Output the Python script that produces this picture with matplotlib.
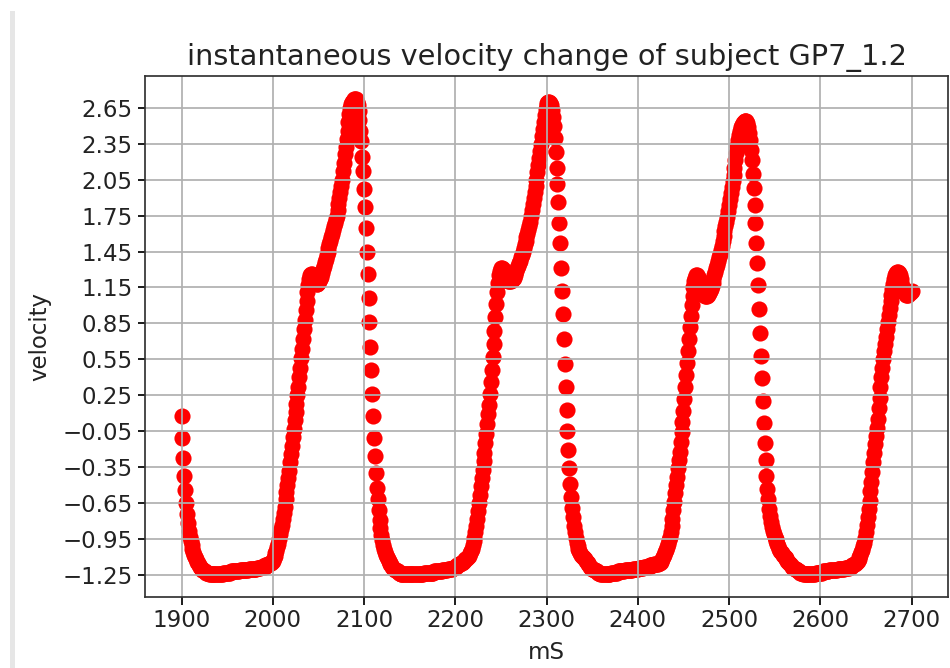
import numpy as np
import matplotlib
matplotlib.use("Agg")
import matplotlib.pyplot as plt
from matplotlib.patches import Rectangle

# time axis: one sample per ms starting at 1900
t_start = 1900
t_step = 1

v_1900 = [0.08, -0.11, -0.27, -0.42, -0.54, -0.65, -0.74, -0.82, -0.88, -0.93,
          -0.97, -1.00, -1.03, -1.06, -1.08, -1.10, -1.12, -1.14, -1.15, -1.17,
          -1.18, -1.19, -1.20, -1.21, -1.21, -1.22, -1.22, -1.23, -1.23, -1.23,
          -1.24, -1.24, -1.24, -1.24, -1.24, -1.24, -1.24, -1.24, -1.24, -1.24,
          -1.24, -1.24, -1.24, -1.24, -1.24, -1.24, -1.23, -1.23, -1.23, -1.23,
          -1.23, -1.23, -1.23, -1.23, -1.22, -1.22, -1.22, -1.22, -1.22, -1.22,
          -1.22, -1.22, -1.22, -1.22, -1.21, -1.21, -1.21, -1.21, -1.21, -1.21,
          -1.21, -1.21, -1.21, -1.21, -1.20, -1.20, -1.20, -1.20, -1.20, -1.20,
          -1.20, -1.20, -1.20, -1.19, -1.19, -1.19, -1.19, -1.18, -1.18, -1.18,
          -1.18, -1.18, -1.17, -1.17, -1.17, -1.16, -1.16, -1.15, -1.15, -1.14]

v_2000 = [-1.13, -1.11, -1.09, -1.07, -1.05, -1.02, -0.99, -0.95, -0.91, -0.87,
          -0.83, -0.78, -0.73, -0.68, -0.62, -0.56, -0.50, -0.44, -0.38, -0.31,
          -0.24, -0.17, -0.10, -0.03, 0.04, 0.11, 0.18, 0.25, 0.32, 0.40,
          0.48, 0.56, 0.64, 0.72, 0.80, 0.88, 0.96, 1.04, 1.11, 1.17,
          1.22, 1.25, 1.26, 1.26, 1.25, 1.23, 1.21, 1.19, 1.18, 1.18,
          1.19, 1.20, 1.22, 1.24, 1.27, 1.30, 1.33, 1.36, 1.39, 1.42,
          1.45, 1.48, 1.51, 1.54, 1.57, 1.60, 1.63, 1.66, 1.69, 1.72,
          1.75, 1.80, 1.85, 1.90, 1.95, 2.00, 2.05, 2.12, 2.19, 2.26,
          2.32, 2.39, 2.46, 2.53, 2.60, 2.65, 2.68, 2.70, 2.71, 2.72,
          2.72, 2.72, 2.70, 2.67, 2.62, 2.55, 2.46, 2.37, 2.24, 2.12]

v_2100 = [1.97, 1.82, 1.65, 1.45, 1.26, 1.06, 0.86, 0.65, 0.46, 0.26,
          0.08, -0.11, -0.26, -0.40, -0.52, -0.62, -0.71, -0.79, -0.86, -0.92,
          -0.96, -1.00, -1.03, -1.06, -1.08, -1.10, -1.12, -1.13, -1.15, -1.16,
          -1.17, -1.18, -1.19, -1.20, -1.21, -1.21, -1.22, -1.22, -1.23, -1.23,
          -1.24, -1.24, -1.24, -1.24, -1.24, -1.24, -1.24, -1.24, -1.24, -1.24,
          -1.24, -1.24, -1.24, -1.24, -1.24, -1.24, -1.24, -1.24, -1.24, -1.24,
          -1.24, -1.24, -1.24, -1.24, -1.24, -1.24, -1.23, -1.23, -1.23, -1.23,
          -1.23, -1.23, -1.23, -1.23, -1.23, -1.23, -1.23, -1.22, -1.22, -1.22,
          -1.22, -1.22, -1.22, -1.22, -1.22, -1.22, -1.21, -1.21, -1.21, -1.21,
          -1.21, -1.21, -1.20, -1.20, -1.20, -1.20, -1.20, -1.19, -1.19, -1.19]

v_2200 = [-1.18, -1.18, -1.17, -1.17, -1.16, -1.16, -1.15, -1.15, -1.14, -1.14,
          -1.13, -1.12, -1.12, -1.11, -1.10, -1.09, -1.07, -1.05, -1.03, -1.00,
          -0.97, -0.94, -0.89, -0.84, -0.78, -0.72, -0.65, -0.58, -0.51, -0.44,
          -0.37, -0.30, -0.23, -0.15, -0.07, 0.01, 0.09, 0.17, 0.26, 0.36,
          0.46, 0.57, 0.68, 0.79, 0.90, 1.01, 1.11, 1.19, 1.25, 1.29,
          1.31, 1.31, 1.30, 1.28, 1.26, 1.24, 1.22, 1.21, 1.20, 1.20,
          1.20, 1.20, 1.21, 1.22, 1.23, 1.25, 1.27, 1.29, 1.31, 1.33,
          1.35, 1.37, 1.40, 1.42, 1.45, 1.48, 1.51, 1.54, 1.57, 1.60,
          1.63, 1.66, 1.70, 1.75, 1.80, 1.85, 1.90, 1.95, 2.00, 2.05,
          2.11, 2.17, 2.23, 2.29, 2.35, 2.41, 2.47, 2.53, 2.59, 2.64]

v_2300 = [2.67, 2.69, 2.70, 2.70, 2.69, 2.67, 2.63, 2.57, 2.50, 2.40,
          2.28, 2.15, 2.01, 1.86, 1.69, 1.52, 1.31, 1.12, 0.93, 0.72,
          0.51, 0.32, 0.13, -0.05, -0.21, -0.36, -0.49, -0.60, -0.69, -0.77,
          -0.84, -0.89, -0.94, -0.98, -1.01, -1.03, -1.05, -1.07, -1.08, -1.09,
          -1.10, -1.11, -1.12, -1.13, -1.14, -1.15, -1.16, -1.17, -1.18, -1.19,
          -1.20, -1.20, -1.21, -1.21, -1.22, -1.22, -1.23, -1.23, -1.23, -1.24,
          -1.24, -1.24, -1.24, -1.24, -1.24, -1.24, -1.24, -1.24, -1.24, -1.24,
          -1.24, -1.23, -1.23, -1.23, -1.23, -1.23, -1.23, -1.23, -1.22, -1.22,
          -1.22, -1.22, -1.22, -1.22, -1.22, -1.22, -1.21, -1.21, -1.21, -1.21,
          -1.21, -1.21, -1.21, -1.21, -1.21, -1.20, -1.20, -1.20, -1.20, -1.20]

v_2400 = [-1.20, -1.19, -1.19, -1.19, -1.19, -1.19, -1.19, -1.18, -1.18, -1.18,
          -1.18, -1.18, -1.18, -1.17, -1.17, -1.17, -1.17, -1.17, -1.16, -1.16,
          -1.16, -1.16, -1.16, -1.15, -1.15, -1.14, -1.13, -1.12, -1.10, -1.08,
          -1.06, -1.04, -1.02, -0.99, -0.96, -0.93, -0.89, -0.84, -0.78, -0.71,
          -0.64, -0.57, -0.50, -0.43, -0.36, -0.29, -0.22, -0.14, -0.06, 0.03,
          0.12, 0.22, 0.32, 0.42, 0.52, 0.62, 0.72, 0.82, 0.91, 1.00,
          1.08, 1.15, 1.20, 1.23, 1.25, 1.25, 1.24, 1.22, 1.19, 1.16,
          1.13, 1.11, 1.10, 1.09, 1.08, 1.08, 1.08, 1.09, 1.10, 1.12,
          1.14, 1.16, 1.19, 1.22, 1.25, 1.28, 1.31, 1.34, 1.37, 1.40,
          1.43, 1.46, 1.50, 1.54, 1.58, 1.62, 1.66, 1.70, 1.74, 1.79]

v_2500 = [1.84, 1.89, 1.94, 1.99, 2.04, 2.09, 2.15, 2.21, 2.27, 2.33,
          2.38, 2.42, 2.46, 2.49, 2.51, 2.52, 2.53, 2.54, 2.54, 2.54,
          2.52, 2.49, 2.44, 2.38, 2.30, 2.21, 2.10, 1.98, 1.84, 1.69,
          1.52, 1.35, 1.17, 0.97, 0.77, 0.58, 0.39, 0.20, 0.02, -0.15,
          -0.29, -0.42, -0.53, -0.62, -0.70, -0.76, -0.81, -0.85, -0.88, -0.91,
          -0.93, -0.95, -0.97, -0.99, -1.01, -1.03, -1.05, -1.06, -1.07, -1.08,
          -1.09, -1.10, -1.11, -1.12, -1.13, -1.14, -1.15, -1.16, -1.17, -1.18,
          -1.19, -1.19, -1.20, -1.20, -1.21, -1.21, -1.22, -1.22, -1.23, -1.23,
          -1.23, -1.24, -1.24, -1.24, -1.24, -1.24, -1.24, -1.24, -1.24, -1.24,
          -1.24, -1.24, -1.24, -1.24, -1.24, -1.23, -1.23, -1.23, -1.23, -1.23]

v_2600 = [-1.23, -1.23, -1.23, -1.22, -1.22, -1.22, -1.22, -1.22, -1.22, -1.22,
          -1.21, -1.21, -1.21, -1.21, -1.21, -1.21, -1.21, -1.21, -1.21, -1.20,
          -1.20, -1.20, -1.20, -1.20, -1.20, -1.20, -1.20, -1.19, -1.19, -1.19,
          -1.19, -1.19, -1.18, -1.18, -1.18, -1.17, -1.17, -1.16, -1.16, -1.15,
          -1.14, -1.13, -1.12, -1.10, -1.08, -1.06, -1.04, -1.01, -0.98, -0.94,
          -0.89, -0.83, -0.77, -0.70, -0.63, -0.55, -0.47, -0.39, -0.31, -0.23,
          -0.16, -0.09, -0.02, 0.05, 0.14, 0.23, 0.32, 0.40, 0.48, 0.55,
          0.62, 0.68, 0.74, 0.80, 0.86, 0.92, 0.98, 1.04, 1.09, 1.14,
          1.18, 1.22, 1.25, 1.27, 1.28, 1.28, 1.27, 1.25, 1.22, 1.19,
          1.16, 1.13, 1.11, 1.10, 1.09, 1.09, 1.09, 1.10, 1.10, 1.11,
          1.12]

y_ticks = [-1.25, -0.95, -0.65, -0.35, -0.05, 0.25, 0.55, 0.85, 1.15, 1.45,
           1.75, 2.05, 2.35, 2.65]
x_ticks = [1900, 2000, 2100, 2200, 2300, 2400, 2500, 2600, 2700]

title = "instantaneous velocity change of subject GP7_1.2"
x_label = "mS"
y_label = "velocity"

velocity = np.array(v_1900 + v_2000 + v_2100 + v_2200 + v_2300 + v_2400 + v_2500 + v_2600)
ms = t_start + t_step * np.arange(len(velocity))

fig = plt.figure(figsize=(9.5, 6.68), dpi=100)
fig.patches.append(Rectangle((10 / 950, 0), 5 / 950, 1 - 11 / 668,
                             transform=fig.transFigure, facecolor="#e6e6e6",
                             edgecolor="none"))
ax = fig.add_axes([145 / 950, 71 / 668, 803 / 950, 521 / 668])

ax.scatter(ms, velocity, s=135, c="red", linewidths=0)
ax.set_xlim(1860, 2740)
ax.set_ylim(-1.434, 2.915)
ax.set_xticks(x_ticks)
ax.set_yticks(y_ticks)
ax.grid(True, color="#b0b0b0", linewidth=1.25)
ax.tick_params(labelsize=16.5, length=5.4, width=1.25, colors="black",
               labelcolor="#222222")
for sp in ax.spines.values():
    sp.set_linewidth(1.25)
    sp.set_edgecolor("#333333")
ax.set_title(title, fontsize=20.7, pad=8, color="#222222")
ax.set_xlabel(x_label, fontsize=16.5, labelpad=6, color="#222222")
ax.set_ylabel(y_label, fontsize=16.5, labelpad=8, color="#222222")

fig.savefig("out.png", dpi=100)
